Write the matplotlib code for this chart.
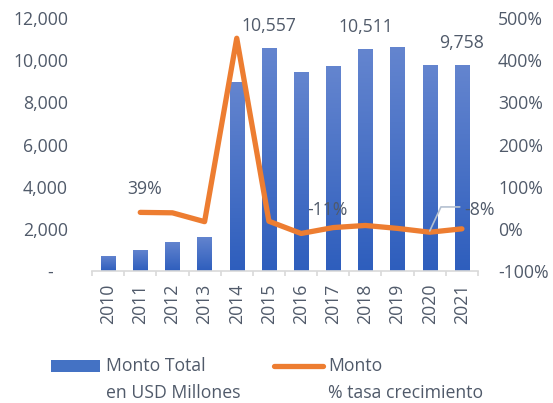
import numpy as np
import matplotlib
matplotlib.use("Agg")
import matplotlib.pyplot as plt
from matplotlib.patches import Rectangle
from matplotlib.lines import Line2D
from matplotlib.colors import LinearSegmentedColormap

years = ["2010", "2011", "2012", "2013", "2014", "2015", "2016", "2017", "2018", "2019", "2020", "2021"]
monto_total = [714, 1000, 1380, 1620, 8950, 10557, 9430, 9710, 10511, 10620, 9760, 9758]
growth = [None, 39, 38, 17, 452, 18, -11, 3, 8, 1, -8, 0]
bar_label_idx = [5, 8, 11]
left_ticks = [0, 2000, 4000, 6000, 8000, 10000, 12000]
left_tick_labels = ["-   ", "2,000", "4,000", "6,000", "8,000", "10,000", "12,000"]
right_ticks = [-100, 0, 100, 200, 300, 400, 500]

TXT = "#505a6a"
FONT = "Open Sans"
FS = 12.7
PX = 0.72  # points per pixel at dpi 100
plt.rcParams["font.family"] = [FONT, "DejaVu Sans"]

W, H = 553, 403
fig = plt.figure(figsize=(W / 100, H / 100), dpi=100)
L, R, B, T = 92, 478, 271, 18
ax = fig.add_axes([L / W, 1 - B / H, (R - L) / W, (B - T) / H])
ax2 = ax.twinx()

x = np.arange(len(years))
bars = ax.bar(x, monto_total, width=0.45, color="none", edgecolor="none", zorder=2)
cmap = LinearSegmentedColormap.from_list("g", ["#2e5ebd", "#6485cf"])
grad = np.linspace(0, 1, 256).reshape(-1, 1)
for b in bars:
    x0, y0 = b.get_x(), b.get_y()
    w, h = b.get_width(), b.get_height()
    im = ax.imshow(grad, extent=[x0, x0 + w, y0, y0 + h], origin="lower", aspect="auto",
                   cmap=cmap, zorder=2, interpolation="bilinear")
    im.set_clip_path(b)

ax.set_xlim(-0.5, len(years) - 0.5)
ax.set_ylim(0, 12000)
ax2.set_ylim(-100, 500)

gx = [i for i, g in enumerate(growth) if g is not None]
gy = [g for g in growth if g is not None]
ax2.plot(gx, gy, color="#ED7D31", lw=3.8, solid_joinstyle="round", solid_capstyle="round", zorder=3)

for s in ["top", "left", "right"]:
    ax.spines[s].set_visible(False)
    ax2.spines[s].set_visible(False)
ax2.spines["bottom"].set_visible(False)
ax.spines["bottom"].set_color("#d9d9d9")
ax.spines["bottom"].set_linewidth(1.2)

ax.set_yticks(left_ticks)
ax.set_yticklabels(left_tick_labels)
ax.tick_params(axis="y", length=0, pad=24 * PX, labelsize=FS, labelcolor=TXT)
ax2.set_yticks(right_ticks)
ax2.set_yticklabels([f"{t}%" for t in right_ticks])
ax2.tick_params(axis="y", length=0, pad=20 * PX, labelsize=FS, labelcolor=TXT)

ax.set_xticks(x)
ax.set_xticklabels(years, rotation=90)
ax.tick_params(axis="x", length=0, pad=13 * PX, labelsize=FS, labelcolor=TXT)
ax.set_xticks(np.arange(-0.5, len(years), 1), minor=True)
ax.tick_params(axis="x", which="minor", length=5 * PX, width=1.2, color="#d9d9d9")

for i in bar_label_idx:
    ax.annotate(f"{monto_total[i]:,}", (x[i], monto_total[i]), xytext=(0, 22), textcoords="offset pixels",
                ha="center", va="center", fontsize=FS, color=TXT)

ax2.annotate(f"{growth[1]}%", (1, growth[1]), xytext=(4, 23), textcoords="offset pixels",
             ha="center", va="center", fontsize=FS, color=TXT)
ax2.annotate(f"{growth[6]}%", (6, growth[6]), xytext=(26, 23), textcoords="offset pixels",
             ha="center", va="center", fontsize=FS, color=TXT)
ax2.annotate(f"{growth[10]}%", (10, growth[10]), xytext=(50, 22), textcoords="offset pixels",
             ha="center", va="center", fontsize=FS, color=TXT)
# leader line for -8%
ax2.annotate("", (10, growth[10] + 3), xytext=(30, 24), textcoords="offset pixels",
             arrowprops=dict(arrowstyle="-", color="#b4c0d0", lw=1.2, shrinkA=0, shrinkB=0,
                             connectionstyle="angle,angleA=0,angleB=65,rad=0"))

# legend (manual)
fig.add_artist(Rectangle((51 / W, 1 - 372 / H), 49 / W, 12 / H, transform=fig.transFigure,
                         facecolor="#4472C4", edgecolor="none"))
fig.text(106 / W, 1 - 366 / H, "Monto Total", fontsize=FS, color=TXT, va="center", ha="left")
fig.text(106 / W, 1 - 393 / H, "en USD Millones", fontsize=FS, color=TXT, va="center", ha="left")
fig.add_artist(Line2D([274 / W, 323 / W], [1 - 366 / H, 1 - 366 / H], transform=fig.transFigure,
                      color="#ED7D31", lw=3.8, solid_capstyle="round"))
fig.text(328 / W, 1 - 366 / H, "Monto", fontsize=FS, color=TXT, va="center", ha="left")
fig.text(328 / W, 1 - 393 / H, "% tasa crecimiento", fontsize=FS, color=TXT, va="center", ha="left")

fig.savefig("out.png", dpi=100)
